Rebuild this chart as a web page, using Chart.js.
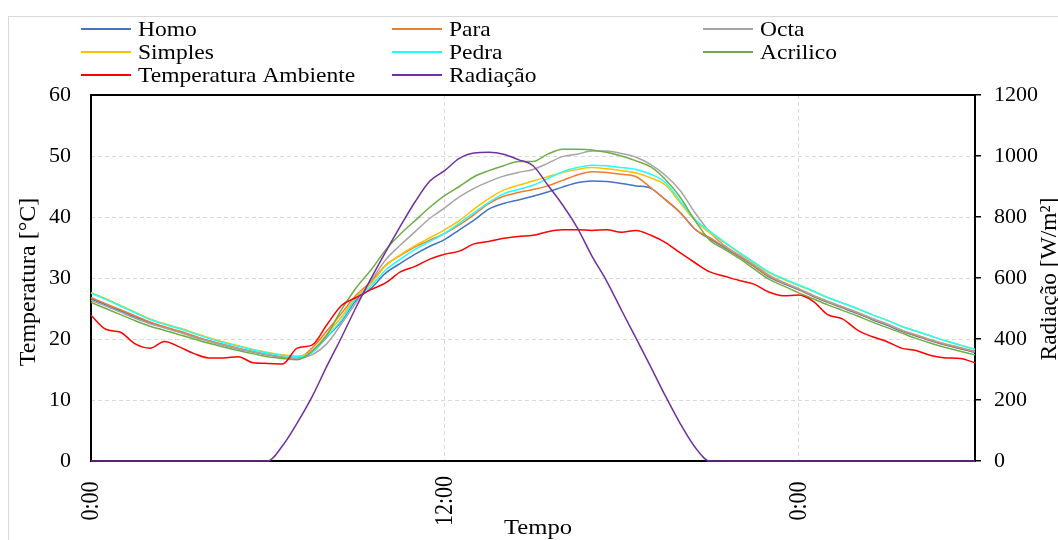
<!DOCTYPE html>
<html>
<head>
<meta charset="utf-8">
<script src="https://cdn.jsdelivr.net/npm/chart.js@4.4.1/dist/chart.umd.min.js"></script>
<style>
    html, body { margin: 0; padding: 0; background: #fff; }
    #wrap { width: 1058px; height: 540px; }
</style>
</head>
<body>
<div id="wrap"><canvas id="grafico" width="1058" height="540"></canvas></div>
<script>
// tempo em horas desde 0:00 (passo de 30 min)
var horas = [0, 0.5, 1, 1.5, 2, 2.5, 3, 3.5, 4, 4.5, 5, 5.5, 6, 6.5, 7, 7.5, 8, 8.5, 9, 9.5,
    10, 10.5, 11, 11.5, 12, 12.5, 13, 13.5, 14, 14.5, 15, 15.5, 16, 16.5, 17, 17.5, 18, 18.5, 19, 19.5,
    20, 20.5, 21, 21.5, 22, 22.5, 23, 23.5, 24, 24.5, 25, 25.5, 26, 26.5, 27, 27.5, 28, 28.5, 29, 29.5, 30];

var homo = [26.6, 25.6, 24.6, 23.6, 22.7, 21.9, 21.2, 20.4, 19.7, 19.0, 18.4, 17.9, 17.4, 17.0, 16.8,
    17.8, 20.3, 22.9, 26.4, 28.3, 30.8, 32.4, 33.9, 35.2, 36.3, 37.9, 39.5, 41.3, 42.2, 42.8, 43.4, 44.1, 44.9, 45.6,
    45.9, 45.8, 45.5, 45.1, 44.7, 42.8, 40.7, 38.0, 36.4,
    35.0, 33.5, 31.9, 30.2, 29.1, 28.1, 27.0, 26.0, 25.1, 24.2, 23.2, 22.3, 21.3, 20.5, 19.7, 19.0, 18.4, 17.8];
var para = [26.8, 25.8, 24.8, 23.8, 22.8, 22.0, 21.3, 20.5, 19.7, 19.1, 18.5, 17.9, 17.4, 17.0, 16.8,
    18.5, 21.3, 24.2, 27.2, 29.4, 32.1, 33.7, 35.1, 36.2, 37.3, 38.7, 40.4, 42.2, 43.4, 44.0, 44.5, 45.1, 46.0, 46.9,
    47.4, 47.3, 47.0, 46.6, 44.8, 42.8, 40.7, 38.0, 36.6,
    35.1, 33.6, 32.0, 30.3, 29.2, 28.2, 27.1, 26.1, 25.2, 24.3, 23.3, 22.4, 21.4, 20.6, 19.8, 19.1, 18.5, 17.9];
var octa = [26.3, 25.4, 24.4, 23.4, 22.5, 21.8, 21.1, 20.3, 19.6, 19.0, 18.4, 17.9, 17.4, 17.0, 16.8,
    17.4, 19.2, 22.5, 26.0, 29.5, 33.0, 35.4, 37.6, 39.8, 41.5, 43.3, 44.7, 45.8, 46.7, 47.3, 47.8, 48.8, 49.9, 50.3,
    50.8, 50.8, 50.4, 49.8, 48.6, 46.8, 44.3, 40.7, 37.5,
    35.3, 33.8, 32.2, 30.5, 29.3, 28.3, 27.2, 26.2, 25.3, 24.4, 23.4, 22.5, 21.5, 20.7, 19.9, 19.2, 18.6, 18.0];
var simples = [27.6, 26.6, 25.5, 24.4, 23.3, 22.5, 21.8, 21.0, 20.2, 19.5, 18.9, 18.3, 17.8, 17.4, 17.2,
    18.0, 20.8, 23.6, 26.9, 29.1, 32.0, 33.8, 35.3, 36.6, 37.9, 39.4, 41.3, 43.0, 44.4, 45.2, 45.9, 46.6, 47.3, 47.8,
    48.1, 47.9, 47.6, 47.2, 46.4, 45.2, 42.3, 39.4, 37.4,
    35.8, 34.1, 32.5, 30.9, 29.8, 28.8, 27.8, 26.8, 25.9, 25.0, 24.0, 23.1, 22.1, 21.3, 20.5, 19.7, 19.0, 18.3];
var pedra = [27.5, 26.5, 25.4, 24.3, 23.2, 22.4, 21.7, 20.9, 20.1, 19.4, 18.8, 18.2, 17.7, 17.3, 17.1,
    17.8, 20.4, 23.1, 26.7, 28.7, 31.3, 33.1, 34.7, 36.0, 37.3, 39.0, 40.7, 42.4, 43.8, 44.5, 45.2, 46.3, 47.4, 48.1,
    48.5, 48.4, 48.1, 47.8, 47.0, 45.6, 42.6, 39.6, 37.7,
    35.9, 34.2, 32.6, 31.0, 29.9, 28.9, 27.9, 26.8, 25.9, 25.0, 24.0, 23.1, 22.1, 21.3, 20.5, 19.7, 19.0, 18.3];
var acrilico = [26.0, 25.0, 24.0, 23.0, 22.1, 21.4, 20.7, 20.0, 19.3, 18.7, 18.1, 17.6, 17.1, 16.8, 16.6,
    18.0, 20.6, 24.8, 28.4, 31.3, 34.6, 37.2, 39.4, 41.6, 43.5, 45.0, 46.6, 47.6, 48.4, 49.1, 49.1, 50.3, 51.1, 51.1,
    51.0, 50.6, 50.0, 49.2, 48.2, 46.1, 43.2, 39.4, 36.2,
    34.7, 33.2, 31.5, 29.8, 28.7, 27.6, 26.6, 25.6, 24.7, 23.8, 22.8, 21.9, 21.0, 20.1, 19.3, 18.6, 18.0, 17.4];
var tempAmbiente = [23.9, 21.6, 21.1, 19.2, 18.5, 19.6, 18.7, 17.6, 16.9, 16.9, 17.1, 16.1, 16.0, 15.9, 18.5,
    19.0, 22.3, 25.5, 26.8, 28.1, 29.2, 31.0, 31.9, 33.1, 33.9, 34.4, 35.6, 36.0, 36.5, 36.8, 37.0, 37.6, 37.9, 37.9,
    37.8, 37.9, 37.5, 37.8, 37.0, 35.8, 34.1, 32.5, 31.0,
    30.3, 29.6, 29.0, 27.7, 27.1, 27.2, 26.2, 24.0, 23.3, 21.5, 20.4, 19.6, 18.5, 18.1, 17.3, 16.9, 16.8, 16.1];
var radiacao = [0, 0, 0, 0, 0, 0, 0, 0, 0, 0, 0, 0,
    0, 50, 125, 210, 310, 405, 505, 598, 686, 770, 850, 918, 952, 992, 1010, 1012, 1006, 988, 968,
    905, 840, 765, 672, 590, 495, 402, 308, 212, 122, 45, 0,
    0, 0, 0, 0, 0, 0, 0, 0, 0, 0, 0, 0, 0, 0, 0, 0, 0, 0];

var ticksTempo = [0, 12, 24];
var rotulosTempo = ['0:00', '12:00', '0:00'];

var fonte = '"Liberation Serif", "Times New Roman", serif';
var esticar = 1.12;

function pontos(valores) {
    var p = [];
    for (var i = 0; i < valores.length; i++) {
        p.push({ x: horas[i], y: valores[i] });
    }
    return p;
}

function serie(nome, valores, cor, ordem, eixo) {
    return {
        label: nome,
        data: pontos(valores),
        borderColor: cor,
        backgroundColor: cor,
        borderWidth: 1.5,
        pointRadius: 0,
        cubicInterpolationMode: 'monotone',
        order: ordem,
        yAxisID: eixo || 'y',
        clip: 3
    };
}

function texto(ctx, txt, x, y, tam, rot, sx) {
    ctx.save();
    ctx.font = tam + 'px ' + fonte;
    ctx.translate(x, y);
    ctx.scale(sx || 1, 1);
    if (rot) ctx.rotate(rot);
    ctx.fillText(txt, 0, 0);
    ctx.restore();
}

// moldura, legenda e titulos dos eixos
var desenhos = {
    id: 'desenhos',
    beforeDraw: function (chart) {
        var ctx = chart.ctx;
        ctx.save();
        ctx.fillStyle = '#fff';
        ctx.fillRect(0, 0, chart.width, chart.height);
        ctx.strokeStyle = '#d9d9d9';
        ctx.lineWidth = 1;
        ctx.strokeRect(8.5, 16.5, chart.width + 20, chart.height + 20);
        ctx.restore();
    },
    beforeDatasetsDraw: function (chart) {
        var a = chart.chartArea, ctx = chart.ctx;
        ctx.save();
        ctx.strokeStyle = '#000';
        ctx.lineWidth = 2;
        ctx.strokeRect(a.left, a.top, a.right - a.left, a.bottom - a.top);
        ctx.restore();
    },
    afterDraw: function (chart) {
        var ctx = chart.ctx;
        var a = chart.chartArea;
        var colX = [81, 392, 703];
        var linY = [29, 52, 75];
        ctx.save();
        ctx.fillStyle = '#000';
        ctx.textBaseline = 'middle';
        ctx.textAlign = 'left';
        chart.data.datasets.forEach(function (ds, i) {
            var x = colX[i % 3], y = linY[Math.floor(i / 3)];
            ctx.strokeStyle = ds.borderColor;
            ctx.lineWidth = 2;
            ctx.beginPath();
            ctx.moveTo(x, y);
            ctx.lineTo(x + 50, y);
            ctx.stroke();
            texto(ctx, ds.label, x + 57, y + 1, 21, 0, esticar);
        });

        // rotulos do eixo x (verticais)
        var sx = chart.scales.x;
        ctx.textAlign = 'center';
        for (var i = 0; i < ticksTempo.length; i++) {
            texto(ctx, rotulosTempo[i], sx.getPixelForValue(ticksTempo[i]) + 1, 501, 22, -Math.PI / 2, esticar);
        }

        ctx.textBaseline = 'alphabetic';
        texto(ctx, 'Tempo', 538, 534, 22, 0, esticar);

        ctx.textBaseline = 'middle';
        texto(ctx, 'Temperatura [°C]', 29, 282, 24, -Math.PI / 2);
        texto(ctx, 'Radiação [W/m²]', 1050, 279, 23.5, -Math.PI / 2);
        ctx.restore();
    }
};

var graf = new Chart(document.getElementById('grafico'), {
    type: 'line',
    data: {
        datasets: [
            serie('Homo', homo, '#4472C4', 8),
            serie('Para', para, '#ED7D31', 7),
            serie('Octa', octa, '#A5A5A5', 6),
            serie('Simples', simples, '#FFC000', 5),
            serie('Pedra', pedra, '#1EFFFF', 4),
            serie('Acrilico', acrilico, '#70AD47', 3),
            serie('Temperatura Ambiente', tempAmbiente, '#FF0000', 2),
            serie('Radiação', radiacao, '#7030A0', 1, 'y1')
        ]
    },
    options: {
        responsive: false,
        animation: false,
        devicePixelRatio: 1,
        layout: { padding: { top: 95, left: 0, right: 0, bottom: 0 } },
        plugins: {
            legend: { display: false },
            tooltip: { enabled: false }
        },
        scales: {
            x: {
                type: 'linear',
                min: 0,
                max: 30,
                afterBuildTicks: function (s) {
                    s.ticks = ticksTempo.map(function (v) { return { value: v }; });
                },
                afterFit: function (s) { s.height = 79; },
                ticks: { display: false },
                grid: { color: '#d9d9d9', drawTicks: false },
                border: { display: false, dash: [4, 3] }
            },
            y: {
                position: 'left',
                min: 0,
                max: 60,
                afterFit: function (s) { s.width = 91; },
                ticks: {
                    stepSize: 10, padding: 20, color: '#000',
                    font: { family: fonte, size: 22 },
                    callback: function (v) { return String(v); }
                },
                grid: { color: '#d9d9d9', drawTicks: false },
                border: { display: false, dash: [4, 3] }
            },
            y1: {
                position: 'right',
                min: 0,
                max: 1200,
                afterFit: function (s) { s.width = 83; },
                ticks: {
                    stepSize: 200, padding: 13, color: '#000',
                    font: { family: fonte, size: 22 },
                    callback: function (v) { return String(v); }
                },
                grid: { drawOnChartArea: false, color: '#000', lineWidth: 1.5, tickLength: 6 },
                border: { display: false }
            }
        }
    },
    plugins: [desenhos]
});
</script>
</body>
</html>
